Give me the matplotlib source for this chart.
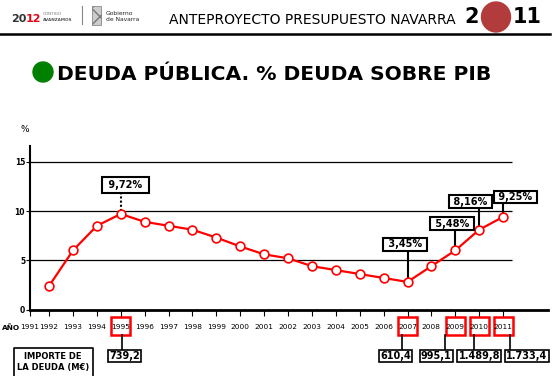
import matplotlib
matplotlib.use("Agg")
import matplotlib.pyplot as plt
from matplotlib.patches import Rectangle, Ellipse
from matplotlib.lines import Line2D

# Datos
years = list(range(1992, 2012))
deuda_pib = [2.4, 6.0, 8.5, 9.7, 8.9, 8.5, 8.1, 7.3, 6.4, 5.6,
             5.2, 4.4, 4.0, 3.6, 3.2, 2.8, 4.4, 6.0, 8.1, 9.4]
tick_labels = [str(y) for y in range(1991, 2012)]

label_years = [1995, 2007, 2009, 2010, 2011]
label_texts = ["9,72%", "3,45%", "5,48%", "8,16%", "9,25%"]

importe_years = [1995, 2007, 2009, 2010, 2011]
importe_texts = ["739,2", "610,4", "995,1", "1.489,8", "1.733,4"]

# layout of the call-outs: (x shift, text y, box bottom y, linestyle, pad)
label_layout = [(0.19, 12.64, 11.73, (0, (1, 1)), 0.35),
                (-0.10, 6.60, 5.94, "-", 0.15),
                (-0.13, 8.73, 8.07, "-", 0.15),
                (-0.36, 10.96, 10.30, "-", 0.15),
                (0.52, 11.42, 10.71, "-", 0.15)]
# (connector x shift, value box x shift)
importe_layout = [(0.04, 0.17), (-0.25, -0.5), (-0.45, -0.8),
                  (-0.2, 0.0), (0.3, 1.0)]

W, H = 556, 376
XMIN, XMAX = 1991.2, 2012.88


def fx(px):
    return px / W


def fy(py):
    return 1 - py / H


fig = plt.figure(figsize=(W / 100, H / 100), dpi=100)
fig.patch.set_facecolor("white")

# ---- cabecera ----
fig.text(fx(11), fy(22), "20", fontsize=8, fontweight="bold", color="#333333", va="baseline")
fig.text(fx(26), fy(22), "12", fontsize=8, fontweight="bold", color="#e30613", va="baseline")
fig.text(fx(43), fy(15), "CONTIGO", fontsize=3, color="#777777", va="baseline")
fig.text(fx(43), fy(21), "AVANZAMOS", fontsize=3, fontweight="bold", color="#555555", va="baseline")
fig.add_artist(Line2D([fx(82), fx(82)], [fy(6), fy(24)], color="#888888", lw=0.8,
                      transform=fig.transFigure))
fig.add_artist(Rectangle((fx(92), fy(25)), 9 / W, 19 / H, transform=fig.transFigure,
                         facecolor="#cccccc", edgecolor="#777777", hatch="xx", lw=0.5))
fig.text(fx(106), fy(15), "Gobierno", fontsize=4.3, color="#222222", va="baseline")
fig.text(fx(106), fy(21), "de Navarra", fontsize=4.3, color="#222222", va="baseline")

fig.text(fx(169), fy(24), "ANTEPROYECTO PRESUPUESTO NAVARRA", fontsize=10,
         color="black", va="baseline")
fig.text(fx(464), fy(23), "2", fontsize=15, fontweight="bold", va="baseline")
fig.add_artist(Ellipse((fx(496), fy(17)), 29 / W, 30 / H, transform=fig.transFigure,
                       color="#b23b3b"))
fig.text(fx(513), fy(23), "11", fontsize=15, fontweight="bold", va="baseline")
fig.add_artist(Line2D([0, fx(550)], [fy(34), fy(34)], color="black", lw=1.8,
                      transform=fig.transFigure))

# ---- titulo ----
fig.add_artist(Ellipse((fx(43), fy(72)), 20 / W, 20 / H, transform=fig.transFigure,
                       color="#008000"))
fig.text(fx(57), fy(80), "DEUDA PÚBLICA. % DEUDA SOBRE PIB", fontsize=14.6,
         fontweight="bold", va="baseline")

# ---- grafico ----
ax = fig.add_axes([fx(30), fy(309.5), (548 - 30) / W, (309.5 - 146) / H])
ax.set_xlim(XMIN, XMAX)
ax.set_ylim(0, 16.6)
for side in ["top", "right"]:
    ax.spines[side].set_visible(False)
ax.spines["left"].set_linewidth(1.5)
ax.spines["bottom"].set_linewidth(2)

ax.hlines([5, 10, 15], XMIN, 2011.38, color="black", lw=0.9, zorder=1)

ax.plot(years, deuda_pib, color="red", lw=1.6, marker="o", ms=6.3,
        mfc="white", mec="red", mew=1.2, zorder=3)

ax.set_yticks([0, 5, 10, 15])
ax.set_yticklabels(["0", "5", "10", "15"], fontsize=5.5, fontweight="bold")
ax.tick_params(axis="y", length=3, width=0.8, pad=0.5)
ax.set_xticks([XMIN] + years)
ax.set_xticklabels(tick_labels, fontsize=5.3)
ax.tick_params(axis="x", length=4, width=0.8, pad=6.5)

ax.text(-0.01, 1.1, "%", transform=ax.transAxes, fontsize=6.5, ha="center", va="center")

# etiquetas de valor
for yr, txt, (dx, ty, by, ls, pad) in zip(label_years, label_texts, label_layout):
    val = deuda_pib[years.index(yr)]
    ax.plot([yr, yr], [val + 0.35, by], color="black", lw=1.5, ls=ls, zorder=2)
    ax.text(yr + dx, ty, " " + txt + " ", ha="center", va="center", fontsize=7,
            fontweight="bold", zorder=4,
            bbox=dict(boxstyle="square,pad=%s" % pad, fc="white", ec="black", lw=1.5))

# importe de la deuda
trans = ax.get_xaxis_transform()
for yr, txt, (lx, bx) in zip(importe_years, importe_texts, importe_layout):
    ax.add_patch(Rectangle((yr - 0.40, -0.156), 0.80, 0.11, transform=trans,
                           fill=False, ec="red", lw=1.8, clip_on=False))
    ax.plot([yr + lx, yr + lx], [-0.156, -0.248], transform=trans, color="black",
            lw=1.2, clip_on=False)
    ax.text(yr + bx, -0.284, txt, transform=trans, ha="center", va="center",
            fontsize=7, fontweight="bold",
            bbox=dict(boxstyle="square,pad=0.12", fc="white", ec="black", lw=1.2))

fig.text(fx(2), fy(328), "AÑO", fontsize=5.3, fontweight="bold", va="center")
fig.add_artist(Line2D([fx(13.5), fx(13.5), fx(93), fx(93)], [0, fy(348), fy(348), 0],
                      color="black", lw=1.2, transform=fig.transFigure))
fig.text(fx(53), fy(362), "IMPORTE DE\nLA DEUDA (M€)", fontsize=6, fontweight="bold",
         ha="center", va="center", linespacing=1.3)

fig.savefig("out.png", dpi=100)
